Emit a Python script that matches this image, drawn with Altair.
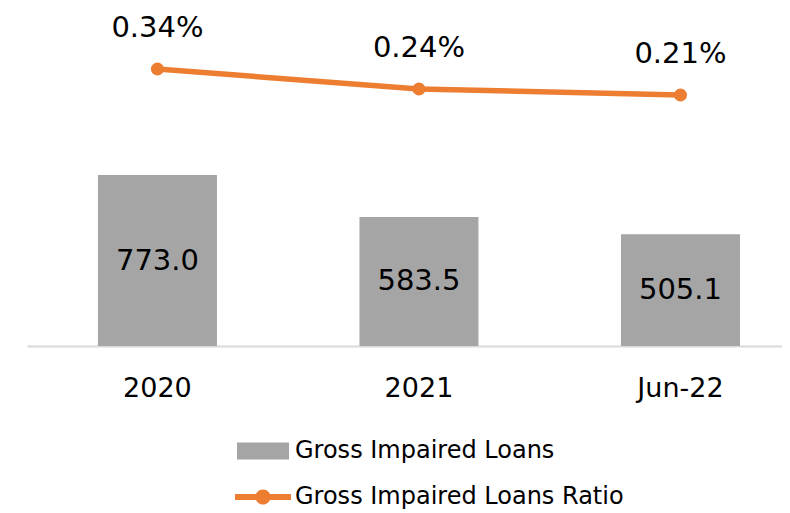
import altair as alt
import pandas as pd

categories = ["2020", "2021", "Jun-22"]
loans = [773.0, 583.5, 505.1]
ratios = [0.0034, 0.0024, 0.0021]
loan_labels = ["773.0", "583.5", "505.1"]
ratio_labels = ["0.34%", "0.24%", "0.21%"]
bar_series = "Gross Impaired Loans"
line_series = "Gross Impaired Loans Ratio"

df = pd.DataFrame({
    "cat": categories,
    "loans": loans,
    "ratio": ratios,
    "loan_label": loan_labels,
    "ratio_label": ratio_labels,
    "s1": [bar_series] * 3,
    "s2": [line_series] * 3,
})

FONT = "DejaVu Sans"
GRAY = "#A5A5A5"
ORANGE = "#ED7D31"

xenc = alt.X(
    "cat:N", sort=categories, title=None,
    scale=alt.Scale(paddingInner=0.545, paddingOuter=0.216, align=0.628),
    axis=alt.Axis(labelAngle=0, labelFontSize=27, labelFont=FONT, labelColor="#000000",
                  ticks=False, domainColor="#D9D9D9", domainWidth=2, labelPadding=29,
                  grid=False),
)

bar_scale = alt.Scale(domain=[0, 1519], nice=False, zero=True)
line_scale = alt.Scale(domain=[-0.01045, 0.00635], nice=False, zero=False)

rect_path = "M-1,-0.33L1,-0.33L1,0.33L-1,0.33Z"
line_path = ("M-1,-0.107L1,-0.107L1,0.107L-1,0.107Z "
             "M0.27,0A0.27,0.27,0,1,1,-0.27,0A0.27,0.27,0,1,1,0.27,0Z")

bars = alt.Chart(df).mark_bar().encode(
    x=xenc,
    y=alt.Y("loans:Q", scale=bar_scale, axis=None),
    fill=alt.Fill("s1:N", scale=alt.Scale(range=[GRAY]), title=None,
                  legend=alt.Legend(orient="none", legendX=210, legendY=415,
                                    symbolType=rect_path, symbolSize=2704,
                                    symbolStrokeWidth=0, labelFontSize=24, labelFont=FONT,
                                    labelColor="#000000", labelOffset=6, padding=0,
                                    labelLimit=500)),
)

bar_text = alt.Chart(df).transform_calculate(mid="datum.loans / 2").mark_text(
    fontSize=29, font=FONT, color="#000000", baseline="middle"
).encode(
    x=alt.X("cat:N", sort=categories),
    y=alt.Y("mid:Q", scale=bar_scale, axis=None),
    text="loan_label:N",
)

line = alt.Chart(df).mark_line(color=ORANGE, strokeWidth=5.5).encode(
    x=alt.X("cat:N", sort=categories),
    y=alt.Y("ratio:Q", scale=line_scale, axis=None),
)

points = alt.Chart(df).mark_point(filled=True, size=170, opacity=1).encode(
    x=alt.X("cat:N", sort=categories),
    y=alt.Y("ratio:Q", scale=line_scale, axis=None),
    color=alt.Color("s2:N", scale=alt.Scale(range=[ORANGE]), title=None,
                    legend=alt.Legend(orient="none", legendX=208, legendY=459,
                                      symbolType=line_path, symbolSize=3136,
                                      symbolStrokeWidth=0, symbolOpacity=1,
                                      labelFontSize=24, labelFont=FONT,
                                      labelColor="#000000", labelOffset=4, padding=0,
                                      labelLimit=500)),
)

line_text = alt.Chart(df).mark_text(
    fontSize=29, font=FONT, color="#000000", baseline="middle", dy=-41
).encode(
    x=alt.X("cat:N", sort=categories),
    y=alt.Y("ratio:Q", scale=line_scale, axis=None),
    text="ratio_label:N",
)

chart = alt.layer(bars, bar_text, line, points, line_text).resolve_scale(
    y="independent", fill="independent", color="independent"
).properties(
    width=755, height=336,
    padding={"left": 19, "top": 2, "right": 0, "bottom": 4},
    background="#FFFFFF",
).configure_view(stroke=None)

chart.save("out.html", embed_options={"renderer": "svg", "actions": False})
